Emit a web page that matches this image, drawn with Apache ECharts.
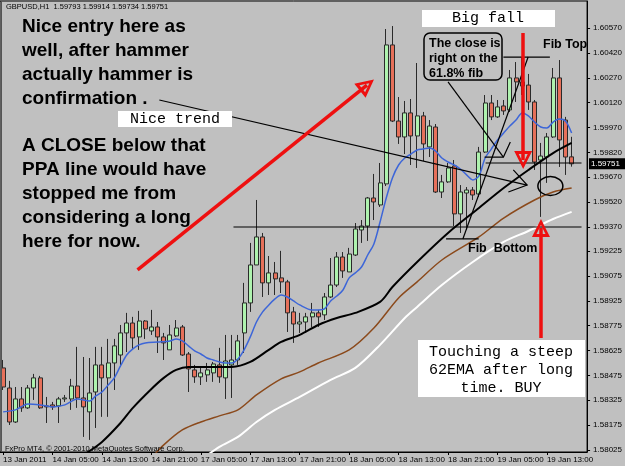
<!DOCTYPE html>
<html><head><meta charset="utf-8">
<script src="https://cdn.jsdelivr.net/npm/echarts@6/dist/echarts.min.js"></script>
<style>html,body{margin:0;padding:0;background:#c0c0c0;}#c{width:625px;height:466px;}</style>
</head><body><div id="c"></div>
<script>
// ---- data ----
const timeLabels = ['13 Jan 2011','14 Jan 05:00','14 Jan 13:00','14 Jan 21:00','17 Jan 05:00','17 Jan 13:00','17 Jan 21:00','18 Jan 05:00','18 Jan 13:00','18 Jan 21:00','19 Jan 05:00','19 Jan 13:00'];
const priceTicks = [1.60570,1.60420,1.60270,1.60120,1.59970,1.59820,1.59670,1.59520,1.59370,1.59225,1.59075,1.58925,1.58775,1.58625,1.58475,1.58325,1.58175,1.58025];
const opens = [1.58520,1.58399,1.58194,1.58333,1.58279,1.58399,1.58460,1.58291,1.58297,1.58291,
1.58333,1.58333,1.58411,1.58339,1.58255,1.58375,1.58538,1.58460,1.58550,1.58598,
1.58731,1.58791,1.58707,1.58803,1.58743,1.58767,1.58707,1.58629,1.58713,1.58767,
1.58604,1.58508,1.58466,1.58478,1.58490,1.58538,1.58460,1.58538,1.58568,1.58731,
1.58912,1.59141,1.59310,1.59033,1.59093,1.59063,1.59039,1.58858,1.58785,1.58797,
1.58828,1.58852,1.58840,1.58948,1.59020,1.59189,1.59099,1.59201,1.59352,1.59376,
1.59545,1.59503,1.59630,1.60468,1.60009,1.59913,1.60058,1.59919,1.60040,1.59853,
1.59973,1.59581,1.59642,1.59738,1.59449,1.59575,1.59593,1.59569,1.59822,1.60118,
1.60034,1.60100,1.60076,1.60269,1.60245,1.60226,1.60124,1.59774,1.59792,1.59913,
1.60269,1.60015,1.59793];
const closes = [1.58405,1.58194,1.58333,1.58279,1.58399,1.58460,1.58279,1.58285,1.58285,1.58333,
1.58339,1.58411,1.58339,1.58285,1.58369,1.58538,1.58460,1.58550,1.58653,1.58731,
1.58791,1.58701,1.58803,1.58755,1.58767,1.58707,1.58671,1.58719,1.58761,1.58598,
1.58514,1.58466,1.58490,1.58508,1.58544,1.58466,1.58562,1.58568,1.58683,1.58912,
1.59141,1.59310,1.59033,1.59093,1.59057,1.59039,1.58852,1.58785,1.58797,1.58828,
1.58852,1.58828,1.58948,1.59020,1.59189,1.59105,1.59207,1.59358,1.59376,1.59545,
1.59521,1.59636,1.60468,1.60009,1.59913,1.60058,1.59919,1.60040,1.59871,1.59979,
1.59581,1.59642,1.59726,1.59449,1.59581,1.59593,1.59563,1.59822,1.60118,1.60034,
1.60094,1.60070,1.60269,1.60245,1.60220,1.60124,1.59762,1.59798,1.59913,1.60269,
1.59895,1.59792,1.59751];
const lows = [1.58387,1.58176,1.58188,1.58255,1.58273,1.58327,1.58273,1.58188,1.58267,1.58188,
1.58315,1.58267,1.58279,1.58104,1.58086,1.58158,1.58225,1.58225,1.58387,1.58526,
1.58616,1.58629,1.58629,1.58695,1.58719,1.58610,1.58568,1.58629,1.58707,1.58592,
1.58375,1.58430,1.58417,1.58436,1.58436,1.58430,1.58333,1.58339,1.58538,1.58610,
1.58858,1.59141,1.58948,1.58960,1.58960,1.58972,1.58737,1.58671,1.58731,1.58731,
1.58767,1.58767,1.58809,1.58942,1.59008,1.59063,1.59099,1.59195,1.59274,1.59286,
1.59412,1.59491,1.59617,1.60003,1.59871,1.59810,1.59744,1.59726,1.59768,1.59792,
1.59575,1.59545,1.59636,1.59376,1.59334,1.59352,1.59533,1.59551,1.59816,1.60015,
1.60028,1.60046,1.60064,1.60124,1.60166,1.60076,1.59714,1.59431,1.59636,1.59907,
1.59732,1.59684,1.59734];
const highs = [1.58568,1.58442,1.58405,1.58405,1.58417,1.58484,1.58472,1.58345,1.58315,1.58345,
1.58357,1.58454,1.58647,1.58586,1.58580,1.58647,1.58647,1.58695,1.58695,1.58779,
1.58852,1.58828,1.58864,1.58809,1.58870,1.58797,1.58731,1.58779,1.58809,1.58779,
1.58616,1.58538,1.58520,1.58550,1.58556,1.58641,1.58719,1.58719,1.58719,1.59033,
1.59274,1.59533,1.59334,1.59195,1.59159,1.59226,1.59051,1.58888,1.58852,1.58852,
1.58912,1.58870,1.58972,1.59183,1.59219,1.59219,1.59244,1.59394,1.59412,1.59551,
1.59690,1.59756,1.60564,1.60582,1.60154,1.60130,1.60142,1.60359,1.60064,1.60015,
1.59991,1.59684,1.59756,1.59774,1.59623,1.59611,1.59611,1.59853,1.60166,1.60166,
1.60136,1.60136,1.60317,1.60365,1.60395,1.60293,1.60136,1.59877,1.59937,1.60329,
1.60377,1.60034,1.59914];
// moving averages: [bar index, price]
const maBlue = [[0,1.58255],[2,1.58267],[4,1.58303],[6,1.58297],[8,1.58285],[10,1.58297],[12,1.58333],[14,1.58321],[15,1.58351],[16,1.58375],[17,1.58417],[18,1.58460],[19,1.58532],[20,1.58598],[21,1.58635],[22,1.58659],[23,1.58671],[25,1.58677],[27,1.58683],[28,1.58695],[29,1.58683],[30,1.58653],[31,1.58623],[32,1.58604],[33,1.58580],[34,1.58568],[35,1.58556],[36,1.58550],[37,1.58550],[38,1.58574],[39,1.58629],[40,1.58707],[41,1.58797],[42,1.58858],[43,1.58900],[44,1.58936],[45,1.58960],[46,1.58948],[47,1.58924],[48,1.58900],[50,1.58870],[51,1.58870],[52,1.58876],[53,1.58924],[54,1.58954],[55,1.58990],[56,1.59063],[57,1.59093],[58,1.59129],[59,1.59201],[60,1.59268],[61,1.59400],[62,1.59545],[63,1.59666],[64,1.59744],[65,1.59786],[66,1.59810],[67,1.59834],[68,1.59840],[69,1.59847],[70,1.59828],[71,1.59786],[72,1.59762],[73,1.59744],[74,1.59720],[75,1.59684],[76,1.59654],[77,1.59678],[78,1.59786],[79,1.59840],[80,1.59895],[81,1.59937],[82,1.59979],[83,1.60015],[84,1.60058],[85,1.60040],[86,1.60003],[87,1.59973],[88,1.59967],[89,1.60003],[90,1.60021],[91,1.60009],[92,1.59937]];
const maBlack = [[13,1.57995],[16,1.58074],[19,1.58188],[21,1.58279],[24,1.58393],[26,1.58460],[28,1.58508],[30,1.58526],[34,1.58526],[37,1.58526],[40,1.58556],[43,1.58629],[45,1.58677],[48,1.58719],[51,1.58779],[54,1.58821],[57,1.58852],[61,1.58918],[63,1.59008],[67,1.59159],[72,1.59334],[77,1.59485],[81,1.59605],[85,1.59714],[89,1.59816],[92,1.59877]];
const maBrown = [[24,1.57977],[26,1.58056],[29,1.58146],[32,1.58194],[35,1.58231],[38,1.58267],[41,1.58357],[45,1.58454],[48,1.58496],[51,1.58550],[56,1.58629],[60,1.58761],[64,1.58942],[67,1.59039],[71,1.59171],[77,1.59310],[81,1.59424],[86,1.59533],[89,1.59581],[92,1.59605]];
const maWhite = [[32,1.57965],[35,1.58044],[38,1.58104],[41,1.58194],[44,1.58267],[48,1.58345],[53,1.58448],[57,1.58520],[61,1.58659],[65,1.58821],[67,1.58888],[71,1.59020],[76,1.59159],[81,1.59280],[85,1.59346],[89,1.59418],[92,1.59461]];
const lastPrice = 1.59751;
// hand-drawn annotations in (bar index, price)
const redArrows = [
  [[21.76,1.59111],[58.88,1.60226]],
  [[84.16,1.60540],[84.16,1.59774]],
  [[87.04,1.58701],[87.04,1.59364]]
];
const blackLines = [
  [[25.28,1.60136],[84.8,1.59623]],
  [[82.56,1.59714],[84.8,1.59623],[81.76,1.59581]],
  [[37.28,1.59370],[93.6,1.59370]],
  [[80.96,1.60395],[88.48,1.60395]],
  [[71.68,1.59298],[76.96,1.59298]],
  [[74.4,1.59298],[84.96,1.60395]],
  [[78.08,1.59756],[93.6,1.59756]],
  [[72.0,1.60245],[80.96,1.59792]],
  [[77.92,1.59792],[80.96,1.59792],[82.08,1.59883]]
];
const circleAt = [88.56,1.59617];

// ---- chart ----
const N = 95;
const cats = Array.from({length:N},(_,i)=>String(i));
const candles = opens.map((o,i)=>[o,closes[i],lows[i],highs[i]]);
const FONT = '"Liberation Sans", Arial, sans-serif';
const MONO = '"Liberation Mono", "Courier New", monospace';
const chart = echarts.init(document.getElementById('c'), null, {renderer:'canvas'});
const arrowPath = 'path://M0,0 L10,18 L-10,18 Z M0,6 L-5,15 L5,15 Z';
const option = {
  animation:false,
  backgroundColor:'#c0c0c0',
  grid:{left:-1.125, top:1, width:N*6.25, height:451, show:true, backgroundColor:'#c0c0c0', borderColor:'#000', borderWidth:1},
  xAxis:[{
    type:'category', data:cats, boundaryGap:true,
    axisLine:{show:true, onZero:false, lineStyle:{color:'#000', width:1}},
    axisTick:{show:true, alignWithLabel:true, interval:7, length:3, lineStyle:{color:'#000'}},
    axisLabel:{interval:7, align:'left', margin:4, fontSize:8, color:'#000', fontFamily:FONT,
      formatter:(v,i)=> (i%8===0 && timeLabels[i/8]) ? timeLabels[i/8] : ''},
    splitLine:{show:false}
  },{
    type:'value', min:-0.5, max:N-0.5, show:false, axisLine:{onZero:false}
  }],
  yAxis:{
    type:'value', position:'right', min:1.58013, max:1.60733, scale:true,
    splitLine:{show:false},
    axisLine:{show:true, onZero:false, lineStyle:{color:'#000'}},
    axisTick:{show:true, length:3, customValues:priceTicks, lineStyle:{color:'#000'}},
    axisLabel:{customValues:priceTicks, margin:6, fontSize:8, color:'#000', fontFamily:FONT, formatter:v=>v.toFixed(5)}
  },
  series:[
    {type:'candlestick', xAxisIndex:0, data:candles, barWidth:4.5, z:2,
      itemStyle:{color:'#aef2ae', color0:'#e6705a', borderColor:'#2a2a2a', borderColor0:'#2a2a2a', borderWidth:1}},
    {type:'line', xAxisIndex:0, data:maWhite, smooth:0.3, showSymbol:false, z:3, lineStyle:{color:'#ffffff', width:2}},
    {type:'line', xAxisIndex:0, data:maBrown, smooth:0.3, showSymbol:false, z:3, lineStyle:{color:'#8b4a1c', width:1.5}},
    {type:'line', xAxisIndex:0, data:maBlack, smooth:0.3, showSymbol:false, z:3, lineStyle:{color:'#000000', width:2}},
    {type:'line', xAxisIndex:0, data:maBlue, smooth:0.3, showSymbol:false, z:3, lineStyle:{color:'#3d66d8', width:1.5}},
    {type:'lines', coordinateSystem:'cartesian2d', xAxisIndex:1, yAxisIndex:0, polyline:true, z:4, silent:true,
      data:blackLines.map(c=>({coords:c})), lineStyle:{color:'#000', width:1.2, opacity:1, curveness:0}},
    {type:'lines', coordinateSystem:'cartesian2d', xAxisIndex:1, yAxisIndex:0, z:5, silent:true,
      symbol:['none', arrowPath], symbolSize:18,
      data:redArrows.map(c=>({coords:c})), lineStyle:{color:'#ee1010', width:3.5, opacity:1, curveness:0}}
  ],
  graphic:[]
};
chart.setOption(option);
const cp = chart.convertToPixel({xAxisIndex:1, yAxisIndex:0}, circleAt);
const lp = chart.convertToPixel({xAxisIndex:1, yAxisIndex:0}, [92, lastPrice]);
chart.setOption({graphic:[
  {type:'line', shape:{x1:1.5,y1:1,x2:1.5,y2:452}, style:{stroke:'#555', lineWidth:1}, z:20},
  {type:'rect', shape:{x:589,y:lp[1]-5.5,width:36,height:11}, style:{fill:'#000'}, z:20},
  {type:'text', x:591, y:lp[1], z:21, style:{text:lastPrice.toFixed(5), font:'8px '+FONT, fill:'#fff', verticalAlign:'middle'}},
  {type:'text', left:6, top:3, z:20, style:{text:'GBPUSD,H1  1.59793 1.59914 1.59734 1.59751', font:'7.5px '+FONT, fill:'#000'}},
  {type:'text', left:5, top:445, z:20, style:{text:'FxPro MT4, \u00a9 2001-2010 MetaQuotes Software Corp.', font:'7.5px '+FONT, fill:'#000'}},
  {type:'text', x:22, y:15, z:20, style:{text:'Nice entry here as\nwell, after hammer\nactually hammer is\nconfirmation .', font:'bold 19px '+FONT, lineHeight:24, fill:'#000', verticalAlign:'top'}},
  {type:'text', x:22, y:134, z:20, style:{text:'A CLOSE below that\nPPA line would have\nstopped me from\nconsidering a long\nhere for now.', font:'bold 19px '+FONT, lineHeight:24, fill:'#000', verticalAlign:'top'}},
  {type:'rect', shape:{x:118,y:111,width:114,height:16}, style:{fill:'#fff'}, z:20},
  {type:'text', x:175, y:119, z:21, style:{text:'Nice trend', font:'15px '+MONO, fill:'#000', align:'center', verticalAlign:'middle'}},
  {type:'rect', shape:{x:422,y:10,width:133,height:17}, style:{fill:'#fff'}, z:20},
  {type:'text', x:488, y:18.5, z:21, style:{text:'Big fall', font:'15px '+MONO, fill:'#000', align:'center', verticalAlign:'middle'}},
  {type:'rect', shape:{x:424,y:33,width:78,height:47,r:6}, style:{fill:'#c0c0c0', stroke:'#000', lineWidth:1.5}, z:20},
  {type:'text', x:429, y:36, z:21, style:{text:'The close is\nright on the\n61.8% fib', font:'bold 12.5px '+FONT, lineHeight:15, fill:'#000', verticalAlign:'top'}},
  {type:'text', x:543, y:38, z:21, style:{text:'Fib Top', font:'bold 12.5px '+FONT, fill:'#000', verticalAlign:'top'}},
  {type:'text', x:468, y:242, z:21, style:{text:'Fib  Bottom', font:'bold 12.5px '+FONT, fill:'#000', verticalAlign:'top'}},
  {type:'rect', shape:{x:418,y:340,width:167,height:57}, style:{fill:'#fff'}, z:20},
  {type:'text', x:501, y:343, z:21, style:{text:'Touching a steep\n62EMA after long\ntime. BUY', font:'15px '+MONO, lineHeight:18, fill:'#000', align:'center', verticalAlign:'top'}},
  {type:'ellipse', shape:{cx:cp[0], cy:cp[1], rx:12.5, ry:9.5}, style:{fill:'none', stroke:'#000', lineWidth:1.5}, z:20}
]});
</script>
</body></html>
